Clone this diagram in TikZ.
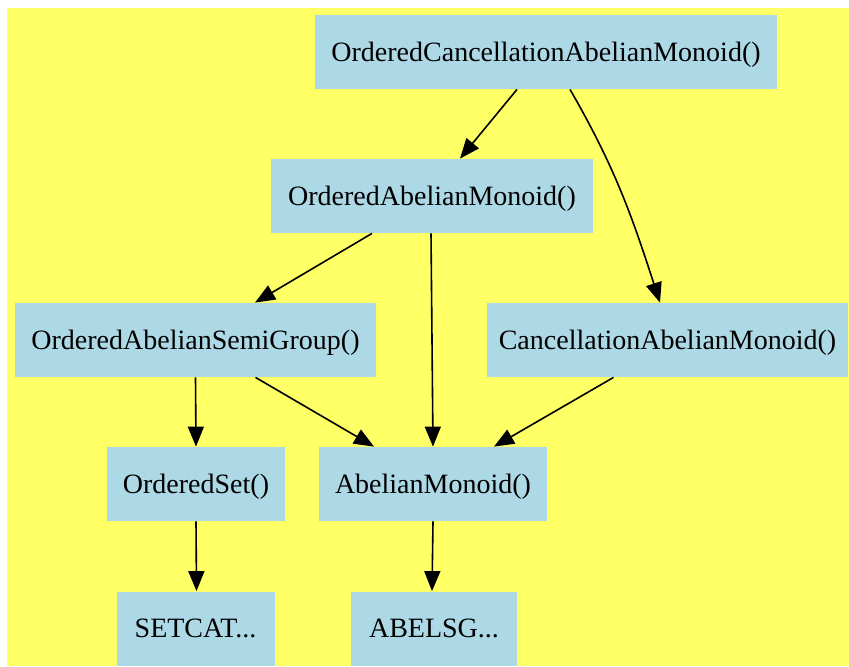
\documentclass[tikz,border=0pt]{standalone}
\usepackage{fontspec}
\setmainfont{Liberation Serif}
\usetikzlibrary{arrows.meta}
\definecolor{bgyellow}{HTML}{FFFF66}
\definecolor{boxblue}{HTML}{ADD8E6}
\tikzset{
  cat/.style={rectangle, fill=boxblue, inner sep=0pt, font=\fontsize{14}{16}\selectfont, text=black, text depth=0pt, minimum height=37pt},
  isa/.style={-{Triangle[length=10pt, width=8pt]}, draw=black, line width=0.8pt},
}

\begin{document}
\begin{tikzpicture}[x=0.5pt,y=-0.5pt]
  \useasboundingbox (0,0) rectangle (849,666);
  \fill[bgyellow] (7,8) rectangle (849,666);
  \node[cat, minimum width=231pt] (ocam) at (546,52) {OrderedCancellationAbelianMonoid()};
  \node[cat, minimum width=161pt] (oam) at (432,196) {OrderedAbelianMonoid()};
  \node[cat, minimum width=180.5pt] (oasg) at (195.5,340) {OrderedAbelianSemiGroup()};
  \node[cat, minimum width=180.5pt] (cam) at (667.5,340) {CancellationAbelianMonoid()};
  \node[cat, minimum width=89pt] (oset) at (196,484) {OrderedSet()};
  \node[cat, minimum width=114pt] (am) at (433,484) {AbelianMonoid()};
  \node[cat, minimum width=79pt] (setcat) at (195.5,628.5) {SETCAT...};
  \node[cat, minimum width=83pt] (abelsg) at (434,628.5) {ABELSG...};
  \draw[isa] ([xshift=-14.5pt]ocam.south) -- ([xshift=14pt]oam.north);
  \draw[isa] ([xshift=12pt]ocam.south) to[out=-60, in=108] ([xshift=-3.75pt]cam.north);
  \draw[isa] ([xshift=-30pt]oam.south) -- ([xshift=29.75pt]oasg.north);
  \draw[isa] ([xshift=-0.5pt]oam.south) -- (am.north);
  \draw[isa] (oasg.south) -- (oset.north);
  \draw[isa] ([xshift=30pt]oasg.south) -- ([xshift=-29.5pt]am.north);
  \draw[isa] ([xshift=-27pt]cam.south) -- ([xshift=30.5pt]am.north);
  \draw[isa] (oset.south) -- ([xshift=0.5pt]setcat.north);
  \draw[isa] (am.south) -- ([xshift=-1pt]abelsg.north);
\end{tikzpicture}
\end{document}
